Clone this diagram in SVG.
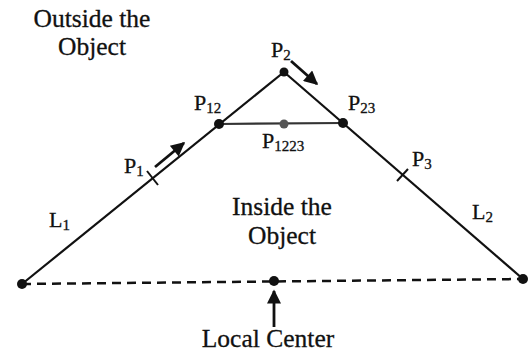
<svg xmlns="http://www.w3.org/2000/svg" width="528" height="354" viewBox="0 0 528 354">
<style>
.t{font-family:"Liberation Serif","Times New Roman",serif;fill:#111;stroke:#111;stroke-width:0.3;}
.big{font-size:25.5px;}
.p{font-size:22px;}
.s{font-size:15px;}
.ln{stroke:#111;stroke-width:2.2;fill:none;}
.dot{fill:#111;}
</style>
<defs>
<marker id="ah" viewBox="0 0 10 10" refX="9" refY="5" markerWidth="6.5" markerHeight="5" orient="auto" markerUnits="strokeWidth">
<path d="M0,0 L10,5 L0,10 z" fill="#111"/>
</marker>
</defs>
<g id="connectors">
<line class="ln" x1="22" y1="284" x2="284" y2="72"/>
<line class="ln" x1="284" y1="72" x2="523" y2="279"/>
<line x1="219" y1="124" x2="343" y2="123" stroke="#333" stroke-width="2.2"/>
<line x1="22" y1="284" x2="523" y2="279" stroke="#111" stroke-width="2.5" stroke-dasharray="9 6"/>
<line x1="147" y1="171" x2="158" y2="185" stroke="#111" stroke-width="2"/>
<line x1="397" y1="181" x2="408" y2="169" stroke="#111" stroke-width="2"/>
<line x1="155" y1="167" x2="184" y2="143" stroke="#111" stroke-width="2.8" marker-end="url(#ah)"/>
<line x1="291" y1="61" x2="317" y2="84" stroke="#111" stroke-width="2.8" marker-end="url(#ah)"/>
<line x1="274" y1="327" x2="274" y2="291" stroke="#111" stroke-width="2.8" marker-end="url(#ah)"/>
</g>
<g id="left-end"><circle class="dot" cx="22" cy="284" r="5"/></g>
<g id="right-end"><circle class="dot" cx="523" cy="279" r="5"/></g>
<g id="local-center">
<circle class="dot" cx="274" cy="281" r="5"/>
<text class="t big" x="268" y="347" text-anchor="middle">Local Center</text>
</g>
<g id="p2">
<circle class="dot" cx="284" cy="72" r="4.5"/>
<text class="t p" x="271" y="57">P<tspan class="s" dy="3">2</tspan></text>
</g>
<g id="p12">
<circle class="dot" cx="219" cy="124" r="5"/>
<text class="t p" x="194" y="110">P<tspan class="s" dy="3">12</tspan></text>
</g>
<g id="p23">
<circle class="dot" cx="343" cy="123" r="5"/>
<text class="t p" x="348" y="110">P<tspan class="s" dy="3">23</tspan></text>
</g>
<g id="p1223">
<circle cx="284" cy="124" r="4.5" fill="#555"/>
<text class="t p" x="262" y="148">P<tspan class="s" dy="3">1223</tspan></text>
</g>
<g id="p1"><text class="t p" x="124" y="173">P<tspan class="s" dy="3">1</tspan></text></g>
<g id="p3"><text class="t p" x="412" y="166">P<tspan class="s" dy="3">3</tspan></text></g>
<g id="l1"><text class="t p" x="49" y="227">L<tspan class="s" dy="3">1</tspan></text></g>
<g id="l2"><text class="t p" x="472" y="219">L<tspan class="s" dy="3">2</tspan></text></g>
<g id="outside">
<text class="t big" x="92" y="27" text-anchor="middle">Outside the</text>
<text class="t big" x="92" y="55" text-anchor="middle">Object</text>
</g>
<g id="inside">
<text class="t big" x="282" y="215" text-anchor="middle">Inside the</text>
<text class="t big" x="282" y="244" text-anchor="middle">Object</text>
</g>
</svg>
